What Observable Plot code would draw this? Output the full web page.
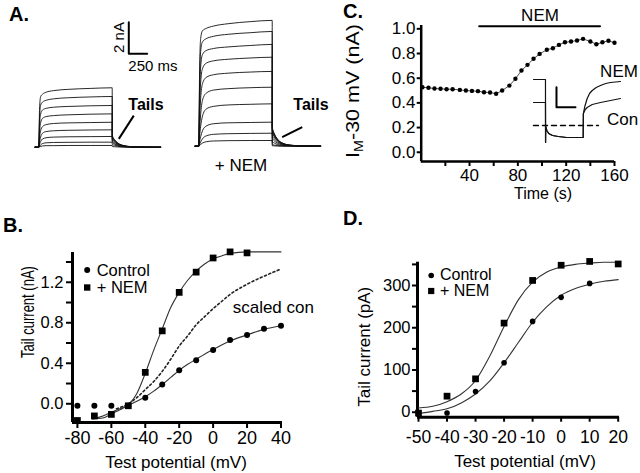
<!DOCTYPE html>
<html><head><meta charset="utf-8">
<script src="https://cdn.jsdelivr.net/npm/d3@7"></script>
<script src="https://cdn.jsdelivr.net/npm/@observablehq/plot@0.6"></script>
<style>
html,body{margin:0;padding:0;background:#fff;}
#fig{position:relative;width:640px;height:473px;overflow:hidden;background:#fff;}
#fig svg{position:absolute;}
</style></head><body><div id="fig"></div>
<script>
// ---------- Panel A: current traces (ms, nA) ----------
const aTime = [-50, 0, 10, 25, 50, 100, 200, 400, 700, 1000, 1001, 1030, 1070, 1130, 1250, 1450, 1660];
const aControl = [
  [0,0, 2.4,3.2,3.35,3.48,3.58,3.66,3.72,3.76, 0.75,0.49,0.29,0.14,0.04,0.01,0],
  [0,0, 1.9,2.65,2.85,2.97,3.06,3.13,3.18,3.21, 0.70,0.46,0.27,0.13,0.04,0.01,0],
  [0,0, 1.4,2.1,2.35,2.46,2.53,2.58,2.62,2.64, 0.65,0.42,0.25,0.12,0.03,0.01,0],
  [0,0, 0.95,1.55,1.82,1.94,2.0,2.05,2.09,2.11, 0.58,0.38,0.22,0.10,0.03,0,0],
  [0,0, 0.6,1.05,1.3,1.43,1.5,1.54,1.56,1.58, 0.50,0.33,0.19,0.09,0.03,0,0],
  [0,0, 0.35,0.65,0.88,0.99,1.04,1.07,1.09,1.10, 0.40,0.26,0.15,0.07,0.02,0,0],
  [0,0, 0.18,0.36,0.52,0.6,0.64,0.66,0.67,0.68, 0.30,0.20,0.11,0.05,0.02,0,0],
  [0,0, 0.07,0.15,0.23,0.28,0.3,0.31,0.32,0.32, 0.18,0.12,0.07,0.03,0.01,0,0],
  [0,0, 0.03,0.05,0.08,0.1,0.1,0.11,0.11,0.11, 0.05,0.03,0.02,0.01,0,0,0]
];
const aNem = [
  [0,0, 4.5,6.8,7.3,7.45,7.6,7.75,7.88,7.96, 1.20,0.78,0.46,0.22,0.06,0.01,0],
  [0,0, 3.8,6.0,6.6,6.8,6.95,7.08,7.18,7.26, 1.15,0.75,0.44,0.21,0.06,0.01,0],
  [0,0, 3.0,5.0,5.8,6.05,6.18,6.28,6.37,6.44, 1.10,0.72,0.42,0.20,0.06,0.01,0],
  [0,0, 2.3,4.0,4.9,5.25,5.4,5.5,5.58,5.63, 1.00,0.65,0.38,0.18,0.05,0.01,0],
  [0,0, 1.6,3.0,3.95,4.35,4.52,4.62,4.69,4.73, 0.90,0.59,0.34,0.16,0.05,0.01,0],
  [0,0, 1.0,2.0,2.9,3.35,3.55,3.64,3.7,3.73, 0.70,0.46,0.27,0.13,0.04,0.01,0],
  [0,0, 0.6,1.25,1.9,2.35,2.52,2.61,2.65,2.68, 0.50,0.33,0.19,0.09,0.03,0,0],
  [0,0, 0.3,0.6,0.98,1.27,1.42,1.48,1.5,1.52, 0.30,0.20,0.11,0.05,0.02,0,0],
  [0,0, 0.12,0.27,0.47,0.65,0.75,0.79,0.81,0.82, 0.10,0.07,0.04,0.02,0.01,0,0],
  [0,0, 0.05,0.11,0.2,0.28,0.33,0.35,0.36,0.36, 0.03,0.02,0.01,0,0,0,0]
];
const aScaleBar = {t: 1226, i: 5.91, dt: 250, di: 2};            // 250 ms, 2 nA
const aTailPointerCtrl = [{t1: 1294, i1: 2.0, t2: 1090, i2: 0.53}];
const aTailPointerNem = [{t1: 1409, i1: 1.2, t2: 1136, i2: 0.57}];

// ---------- Panel B ----------
const bV = [-80,-70,-60,-50,-40,-30,-20,-10,0,10,20,30,40];
const bControl = [-0.02,-0.02,-0.02,-0.02,0.06,0.19,0.33,0.43,0.53,0.63,0.68,0.74,0.77];
const bNemV = [-80,-70,-60,-50,-40,-30,-20,-10,0,10,20];
const bNem = [-0.165,-0.12,-0.105,-0.02,0.31,0.72,1.10,1.30,1.44,1.50,1.49];
const bFitV = [-71,-65,-60,-55,-50,-45,-40,-35,-30,-25,-20,-15,-10,-5,0,5,10,20,30,40];
const bNemFit = [-0.15,-0.14,-0.10,-0.06,-0.01,0.10,0.30,0.53,0.74,0.95,1.10,1.22,1.31,1.38,1.43,1.46,1.485,1.50,1.50,1.50];
const bControlFit = [-0.15,-0.12,-0.085,-0.05,-0.015,0.025,0.07,0.125,0.19,0.26,0.33,0.39,0.44,0.49,0.535,0.58,0.62,0.68,0.735,0.77];
const bScaledV = [-57,-50,-45,-40,-35,-30,-25,-20,-15,-10,-5,0,5,10,20,30,40];
const bScaled = [-0.05,0.0,0.06,0.14,0.22,0.32,0.44,0.57,0.67,0.78,0.86,0.94,1.01,1.08,1.18,1.26,1.33];
const bYTicks = [0,0.2,0.4,0.6,0.8,1.0,1.2,1.4];
const bYLabels = [0,0.4,0.8,1.2];
const bXTicks = [-80,-60,-40,-20,0,20,40];

// ---------- Panel C ----------
const cTime = [1,6,11,16,21,26,32,37,42,47,52,57,62,67,73,78,83,88,93,98,104,109,114,119,124,129,134,140,145,150,155,160];
const cCurrent = [0.527,0.522,0.516,0.514,0.511,0.511,0.505,0.50,0.497,0.495,0.486,0.484,0.474,0.50,0.54,0.595,0.662,0.708,0.757,0.797,0.83,0.843,0.87,0.891,0.897,0.905,0.919,0.897,0.875,0.891,0.903,0.887];
const cNemBar = [48, 148];
const cNemBarLevel = 1.02;
const cXTicks = [20,40,60,80,100,120,140,160];
const cXLabels = [40,80,120,160];
const cYTicks = [0,0.2,0.4,0.6,0.8,1.0];
// inset traces (ms, nA)
const insetNemT = [0,126,127,129,140,160,200,260,350,523,525,540,565,590,618,660,705,760,811,916];
const insetNemI = [0.46,0.46,-0.17,-0.01,-0.05,-0.08,-0.10,-0.11,-0.12,-0.12,0.12,0.19,0.27,0.32,0.35,0.38,0.40,0.42,0.43,0.44];
const insetConT = [0,126,127,129,140,160,200,260,350,523,525,545,565,618,705,811,916];
const insetConI = [0.23,0.23,-0.17,-0.01,-0.05,-0.08,-0.10,-0.11,-0.12,-0.12,0.12,0.16,0.18,0.21,0.23,0.25,0.27];
const insetZeroT = [0, 684];
const insetScaleBar = {t: 242, i: 0.183, dt: 200, di: 0.2};

// ---------- Panel D ----------
const dCtrlV = [-40,-30,-20,-10,0,10];
const dControl = [-2,49,117,215,272,305];
const dNemV = [-50,-40,-30,-20,-10,0,10,20];
const dNem = [-2,38,79,211,312,348,357,351];
const dFitV = [-50,-45,-40,-35,-30,-25,-20,-15,-10,-5,0,5,10,15,20];
const dNemFit = [10,14,25,43,75,133,203,266,308,332,344,350,353,355,355];
const dControlFit = [-3,2,8,22,43,74,117,165,213,250,277,293,303,310,314];
const dXTicks = [-50,-40,-30,-20,-10,0,10,20];
const dYTicks = [0,50,100,150,200,250,300,350];
const dYLabels = [0,100,200,300];

// ---------- helpers ----------
const FONT = "Liberation Sans, Arial, Helvetica, sans-serif";
const fig = document.getElementById("fig");
const baseStyle = {background: "none", overflow: "visible", fontFamily: FONT, color: "black"};
function place(svg, left, top) {
  svg.style.position = "absolute";
  svg.style.left = left + "px";
  svg.style.top = top + "px";
  fig.appendChild(svg);
}
const rows = (xs, ys) => xs.map((x, j) => ({x, y: ys[j]}));
const traceRows = (traces) => traces.flatMap((vals, k) => aTime.map((t, j) => ({t, i: vals[j], k})));
const barRows = (b) => [{t: b.t, i: b.i + b.di}, {t: b.t, i: b.i}, {t: b.t + b.dt, i: b.i}];

// ---------- Panel A plots ----------
function panelA(traces, xDomain, yDomain, extras) {
  return Plot.plot({
    width: 175, height: 190, marginLeft: 30, marginRight: 10, marginTop: 10, marginBottom: 30,
    style: baseStyle,
    x: {domain: xDomain, axis: null}, y: {domain: yDomain, axis: null},
    marks: [
      Plot.line(traceRows(traces), {x: "t", y: "i", z: "k", curve: "monotone-x", stroke: "#111", strokeWidth: 0.9}),
      ...extras
    ]
  });
}
place(panelA(aControl, [-113, 1726], [-0.84, 8.65], [
  Plot.line(barRows(aScaleBar), {x: "t", y: "i", stroke: "black", strokeWidth: 2}),
  Plot.link(aTailPointerCtrl, {x1: "t1", y1: "i1", x2: "t2", y2: "i2", stroke: "black", strokeWidth: 2})
]), 0, 0);
place(panelA(aNem, [-45, 1794], [-0.905, 8.585], [
  Plot.link(aTailPointerNem, {x1: "t1", y1: "i1", x2: "t2", y2: "i2", stroke: "black", strokeWidth: 2})
]), 165, 0);

// ---------- Panel B ----------
place(Plot.plot({
  width: 330, height: 283, marginLeft: 72, marginRight: 48, marginTop: 62, marginBottom: 51,
  style: baseStyle,
  x: {domain: [-82.9, 40.9]}, y: {domain: [-0.185, 1.494]},
  marks: [
    Plot.axisY({ticks: bYTicks, tickFormat: d => bYLabels.includes(d) ? d.toFixed(1) : "", tickSize: 6, tickPadding: 3, strokeWidth: 2, fontSize: 16.5, label: null}),
    Plot.axisX({ticks: bXTicks, tickFormat: d => String(d), tickSize: 6, tickPadding: 3, strokeWidth: 2, fontSize: 18, label: null}),
    Plot.ruleX([-82.9], {strokeWidth: 3}),
    Plot.ruleY([-0.185], {strokeWidth: 3}),
    Plot.line(rows(bScaledV, bScaled), {x: "x", y: "y", curve: "monotone-x", stroke: "#222", strokeWidth: 1.6, strokeDasharray: "2,2.6"}),
    Plot.line(rows(bFitV, bNemFit), {x: "x", y: "y", curve: "monotone-x", stroke: "#333", strokeWidth: 1.1}),
    Plot.line(rows(bFitV, bControlFit), {x: "x", y: "y", curve: "monotone-x", stroke: "#333", strokeWidth: 1.1}),
    Plot.dot(rows(bV, bControl), {x: "x", y: "y", r: 3, fill: "black"}),
    Plot.dot(rows(bNemV, bNem), {x: "x", y: "y", r: 3.8, symbol: "square", fill: "black"}),
    Plot.dot([0], {frameAnchor: "top-left", dx: 14.7, dy: 17.5, r: 3, fill: "black"}),
    Plot.dot([0], {frameAnchor: "top-left", dx: 14.7, dy: 35, r: 3.6, symbol: "square", fill: "black"})
  ]
}), 0, 190);

// ---------- Panel C ----------
place(Plot.plot({
  width: 310, height: 200, marginLeft: 90.7, marginRight: 26, marginTop: 25, marginBottom: 39,
  style: baseStyle,
  x: {domain: [0, 160]}, y: {domain: [-0.075, 1.027]},
  marks: [
    Plot.axisY({ticks: cYTicks, tickFormat: d => d.toFixed(1), tickSize: 4, tickPadding: 1.7, strokeWidth: 2, fontSize: 17, label: null}),
    Plot.axisX({ticks: cXTicks, tickFormat: d => cXLabels.includes(d) ? String(d) : "", tickSize: 5, tickPadding: 2, strokeWidth: 2, fontSize: 17, label: null}),
    Plot.ruleX([0], {strokeWidth: 2.5}),
    Plot.ruleY([-0.075], {strokeWidth: 2.5}),
    Plot.line(cNemBar.map(t => ({t, v: cNemBarLevel})), {x: "t", y: "v", stroke: "black", strokeWidth: 2}),
    Plot.line(rows(cTime, cCurrent), {x: "x", y: "y", stroke: "#222", strokeWidth: 0.8}),
    Plot.dot(rows(cTime, cCurrent), {x: "x", y: "y", r: 2.2, fill: "black"})
  ]
}), 330, 0);

// inset
place(Plot.plot({
  width: 115, height: 85, marginLeft: 8, marginRight: 21.5, marginTop: 5, marginBottom: 5,
  style: baseStyle,
  x: {domain: [0, 900], axis: null}, y: {domain: [-0.2, 0.55], axis: null},
  marks: [
    Plot.line(insetZeroT.map(t => ({t, v: 0})), {x: "t", y: "v", stroke: "black", strokeWidth: 1.4, strokeDasharray: "5,4"}),
    Plot.line(rows(insetConT, insetConI), {x: "x", y: "y", stroke: "#111", strokeWidth: 1.2}),
    Plot.line(rows(insetNemT, insetNemI), {x: "x", y: "y", stroke: "#111", strokeWidth: 1.2}),
    Plot.line(barRows(insetScaleBar), {x: "t", y: "i", stroke: "black", strokeWidth: 2})
  ]
}), 525, 65);

// ---------- Panel D ----------
place(Plot.plot({
  width: 320, height: 283, marginLeft: 97, marginRight: 21, marginTop: 71.7, marginBottom: 56.3,
  style: baseStyle,
  x: {domain: [-50.35, 20.46]}, y: {domain: [-11.8, 355.2]},
  marks: [
    Plot.axisY({ticks: dYTicks, tickFormat: d => dYLabels.includes(d) ? String(d) : "", tickSize: 5, tickPadding: 2, strokeWidth: 2, fontSize: 16.5, label: null}),
    Plot.axisX({ticks: dXTicks, tickFormat: d => String(d), tickSize: 5, tickPadding: 8, strokeWidth: 2, fontSize: 17.5, label: null}),
    Plot.ruleX([-50.35], {strokeWidth: 3}),
    Plot.ruleY([-11.8], {strokeWidth: 3}),
    Plot.line(rows(dFitV, dNemFit), {x: "x", y: "y", curve: "monotone-x", stroke: "#333", strokeWidth: 1.1}),
    Plot.line(rows(dFitV, dControlFit), {x: "x", y: "y", curve: "monotone-x", stroke: "#333", strokeWidth: 1.1}),
    Plot.dot(rows(dCtrlV, dControl), {x: "x", y: "y", r: 2.8, fill: "black"}),
    Plot.dot(rows(dNemV, dNem), {x: "x", y: "y", r: 3.8, symbol: "square", fill: "black"}),
    Plot.dot([0], {frameAnchor: "top-left", dx: 13.7, dy: 13.3, r: 2.8, fill: "black"}),
    Plot.dot([0], {frameAnchor: "top-left", dx: 13.7, dy: 28.8, r: 3.5, symbol: "square", fill: "black"})
  ]
}), 320, 190);

// ---------- text overlay ----------
const ov = d3.select(fig).append("svg").attr("width", 640).attr("height", 473)
  .style("left", "0px").style("top", "0px").style("pointer-events", "none")
  .attr("font-family", FONT).attr("fill", "black");
function txt(x, y, s, o = {}) {
  const t = ov.append("text").attr("x", x).attr("y", y).text(s)
    .attr("font-size", o.size || 17).attr("text-anchor", o.anchor || "start")
    .attr("dominant-baseline", "central");
  if (o.bold) t.attr("font-weight", "bold");
  return t;
}
function rot(cx, cy, s, size, len) {
  const t = ov.append("text").attr("font-size", size).attr("text-anchor", "middle").attr("dominant-baseline", "central");
  if (typeof s === "function") s(t); else t.text(s);
  const w = t.node().getComputedTextLength();
  const k = len ? len / w : 1;
  t.attr("transform", `translate(${cx},${cy}) rotate(-90) scale(${k},1)`);
  return t;
}
// panel letters
txt(9, 13.5, "A.", {size: 20, bold: true});
txt(3, 225, "B.", {size: 20, bold: true});
txt(343, 11, "C.", {size: 20, bold: true});
txt(343, 218, "D.", {size: 20, bold: true});
// panel A
rot(118, 37.5, "2 nA", 15);
txt(128.3, 65.8, "250 ms", {size: 15});
txt(128.3, 104.8, "Tails", {size: 16, bold: true});
txt(293.3, 104.8, "Tails", {size: 16, bold: true});
txt(241, 165.8, "+ NEM", {size: 17, anchor: "middle"});
// panel B
txt(96.7, 269.5, "Control", {size: 16.5});
txt(96.7, 287, "+ NEM", {size: 16.5});
txt(232.7, 307.3, "scaled con");
rot(27.5, 312, "Tail current (nA)", 17.5, 92);
txt(176, 462.7, "Test potential (mV)", {anchor: "middle"});
// panel C
txt(540, 15.8, "NEM", {anchor: "middle"});
txt(619, 71.5, "NEM", {anchor: "middle"});
txt(622.5, 119, "Con", {anchor: "middle"});
txt(543, 193, "Time (s)", {anchor: "middle", size: 16});
rot(353, 91, t => {
  t.append("tspan").text("I");
  t.append("tspan").text("M").attr("font-size", 12).attr("dy", 5);
  t.append("tspan").text("-30 mV (nA)").attr("dy", -5);
}, 18, 134);
// panel D
txt(440, 274.5, "Control", {size: 16});
txt(440, 290.5, "+ NEM", {size: 16});
rot(365, 346.7, "Tail current (pA)", 16.5, 120);
txt(525, 461.7, "Test potential (mV)", {anchor: "middle"});
</script></body></html>
